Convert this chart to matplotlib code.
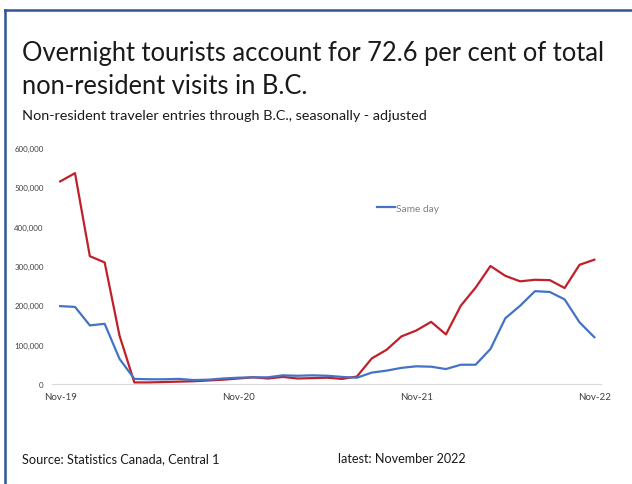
import numpy as np
import matplotlib.pyplot as plt
from matplotlib.ticker import FuncFormatter
from matplotlib.lines import Line2D

# monthly data Nov-19 .. Nov-22
months = ['Nov-19', 'Dec-19', 'Jan-20', 'Feb-20', 'Mar-20', 'Apr-20', 'May-20', 'Jun-20',
          'Jul-20', 'Aug-20', 'Sep-20', 'Oct-20', 'Nov-20', 'Dec-20', 'Jan-21', 'Feb-21',
          'Mar-21', 'Apr-21', 'May-21', 'Jun-21', 'Jul-21', 'Aug-21', 'Sep-21', 'Oct-21',
          'Nov-21', 'Dec-21', 'Jan-22', 'Feb-22', 'Mar-22', 'Apr-22', 'May-22', 'Jun-22',
          'Jul-22', 'Aug-22', 'Sep-22', 'Oct-22', 'Nov-22']
overnight = [515000, 536000, 325000, 309000, 123000, 4000, 4000, 5000, 6000, 7000, 9000,
             11000, 14000, 17000, 14000, 18000, 14000, 15000, 16000, 13000, 19000, 65000,
             87000, 121000, 136000, 158000, 126000, 199000, 245000, 300000, 275000, 261000,
             265000, 264000, 244000, 303000, 316000]
same_day = [198000, 196000, 149000, 153000, 64000, 13000, 12000, 12000, 13000, 10000, 11000,
            14000, 16000, 17000, 17000, 22000, 21000, 22000, 21000, 18000, 16000, 29000,
            34000, 41000, 45000, 44000, 38000, 49000, 49000, 89000, 167000, 199000,
            236000, 234000, 215000, 157000, 119000]
tick_labels = ['Nov-19', 'Nov-20', 'Nov-21', 'Nov-22']

plt.rcParams['font.family'] = ['Lato', 'DejaVu Sans']

fig = plt.figure(figsize=(6.32, 4.85), dpi=100)

# frame line on top and left
fig.add_artist(Line2D([4.5/632, 4.5/632], [0, 1-11/485], color='#2F5597', lw=1.8))
fig.add_artist(Line2D([4.5/632, 1.01], [1-11/485, 1-11/485], color='#2F5597', lw=1.8))

fig.text(22/632, 1-53/485, 'Overnight tourists account for 72.6 per cent of total',
         fontsize=18.4, color='#1a1a1a', va='center')
fig.text(22/632, 1-86/485, 'non-resident visits in B.C.',
         fontsize=18.4, color='#1a1a1a', va='center')
fig.text(22/632, 1-116/485, 'Non-resident traveler entries through B.C., seasonally - adjusted',
         fontsize=10.4, color='#1a1a1a', va='center')
fig.text(22/632, 1-459/485, 'Source: Statistics Canada, Central 1',
         fontsize=9.2, color='#1a1a1a', va='center')
fig.text(338/632, 1-459/485, 'latest: November 2022',
         fontsize=9.1, color='#1a1a1a', va='center')

ax = fig.add_axes([52/632, 1-385/485, (601-52)/632, (385-149)/485])
x = np.arange(len(months))
ax.plot(x, overnight, color='#C0202A', lw=1.6)
ax.plot(x, same_day, color='#4472C4', lw=1.6, label='Same day')

ax.set_ylim(0, 600000)
ax.set_xlim(-0.55, 36.45)
ax.set_yticks(np.arange(0, 600001, 100000))
ax.yaxis.set_major_formatter(FuncFormatter(lambda v, p: f'{int(v):,}'))
ax.set_xticks([months.index(t) for t in tick_labels])
ax.set_xticklabels(tick_labels)
ax.tick_params(axis='y', length=0, labelsize=5.7, labelcolor='#404040', pad=6)
ax.tick_params(axis='x', length=0, labelsize=7, labelcolor='#404040', pad=6)
for s in ['top', 'right', 'left']:
    ax.spines[s].set_visible(False)
ax.spines['bottom'].set_color('#d9d9d9')

leg = ax.legend(loc='center', bbox_to_anchor=((408-52)/549, (385-209)/236), frameon=False,
                fontsize=7.3, handlelength=1.8, handletextpad=0.1)
for t in leg.get_texts():
    t.set_color('#808080')

fig.savefig('out.png', dpi=100)
